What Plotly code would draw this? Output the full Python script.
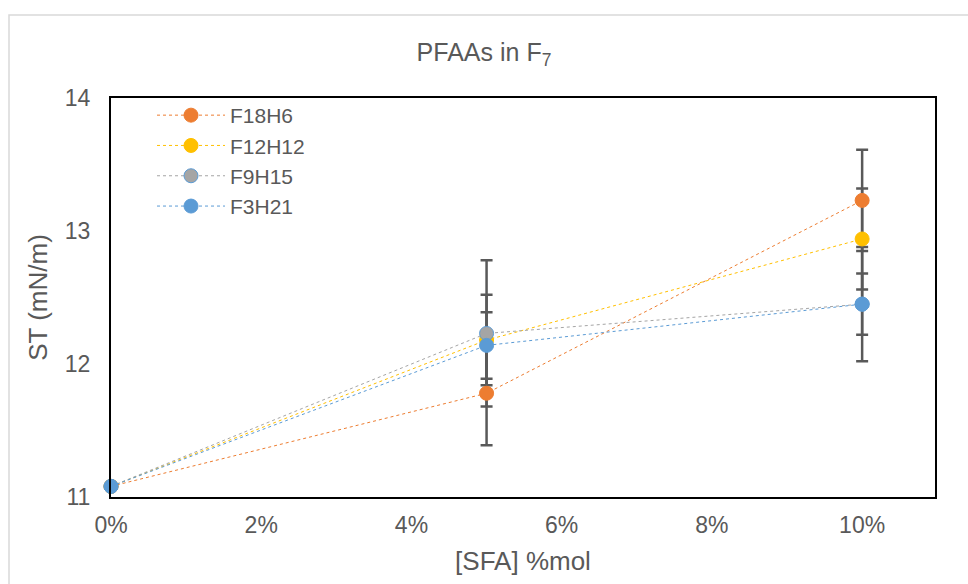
import plotly.graph_objects as go

# Surface tension of PFAA solutions in F7 vs SFA concentration
sfa_mol = [0.0, 0.05, 0.10]

series_names = ["F18H6", "F12H12", "F9H15", "F3H21"]
st_f18h6 = [11.08, 11.78, 13.23]
st_f12h12 = [11.08, 12.18, 12.94]
st_f9h15 = [11.08, 12.23, 12.45]
st_f3h21 = [11.08, 12.14, 12.45]

err_f18h6 = [0.0, 0.39, 0.38]
err_f12h12 = [0.0, 0.34, 0.38]
err_f9h15 = [0.0, 0.55, 0.43]
err_f3h21 = [0.0, 0.25, 0.23]

values = [st_f18h6, st_f12h12, st_f9h15, st_f3h21]
errors = [err_f18h6, err_f12h12, err_f9h15, err_f3h21]
fills = ["#ED7D31", "#FFC000", "#A5A5A5", "#5B9BD5"]
lines = ["#ED7D31", "#FFC000", "#A5A5A5", "#5B9BD5"]
edges = ["#ED7D31", "#FFC000", "#5B9BD5", "#5B9BD5"]

FONT = "Liberation Sans, Arial, sans-serif"
TXT = "#595959"

fig = go.Figure()

# error bars first so the markers sit on top of them
for ys, es in zip(values, errors):
    fig.add_trace(go.Scatter(
        x=sfa_mol, y=ys, mode="markers",
        marker=dict(size=1, opacity=0),
        error_y=dict(type="data", array=es, visible=True,
                     color="#595959", thickness=2.5, width=6),
        showlegend=False, hoverinfo="skip", cliponaxis=False,
    ))

for name, ys, fc, lc, ec in zip(series_names, values, fills, lines, edges):
    fig.add_trace(go.Scatter(
        x=sfa_mol, y=ys, mode="lines+markers", name=name,
        line=dict(color=lc, width=1, dash="dot"),
        marker=dict(size=14, color=fc, line=dict(color=ec, width=1)),
        cliponaxis=False,
    ))

L, R, T, B = 111, 33, 98, 87
W, H = 968, 584
pw, ph = W - L - R, H - T - B

def px_x(px):
    return (px - L) / pw

def px_y(py):
    return (H - B - py) / ph

fig.update_layout(
    width=W, height=H,
    margin=dict(l=L, r=R, t=T, b=B),
    paper_bgcolor="white", plot_bgcolor="white",
    font=dict(family=FONT, color=TXT, size=24),
    title=dict(text="PFAAs in F<sub>7</sub>", x=0.5, xanchor="center",
               y=1 - 52 / H, yanchor="middle",
               font=dict(size=25, color=TXT, family=FONT)),
    xaxis=dict(range=[0, 0.1097], tickvals=[0, 0.02, 0.04, 0.06, 0.08, 0.10],
               tickformat=".0%", showgrid=False, zeroline=False,
               showline=True, linecolor="black", linewidth=2, mirror=True,
               ticks="", ticklabelstandoff=6,
               tickfont=dict(size=23, color=TXT),
               title=dict(text="[SFA] %mol", font=dict(size=26, color=TXT),
                          standoff=15)),
    yaxis=dict(range=[11, 14], dtick=1, showgrid=False, zeroline=False,
               showline=True, linecolor="black", linewidth=2, mirror=True,
               ticks="", ticklabelstandoff=14,
               tickfont=dict(size=23, color=TXT),
               title=dict(text="ST (mN/m)", font=dict(size=26, color=TXT),
                          standoff=10)),
    legend=dict(x=px_x(152), y=px_y(95), xanchor="left", yanchor="top",
                bgcolor="rgba(0,0,0,0)", font=dict(size=21, color=TXT),
                itemwidth=68),
    shapes=[dict(type="rect", xref="paper", yref="paper",
                 x0=px_x(9), y0=px_y(600), x1=px_x(990), y1=px_y(15),
                 line=dict(color="#D9D9D9", width=1.5), layer="below")],
)

fig.write_html("out.html")
